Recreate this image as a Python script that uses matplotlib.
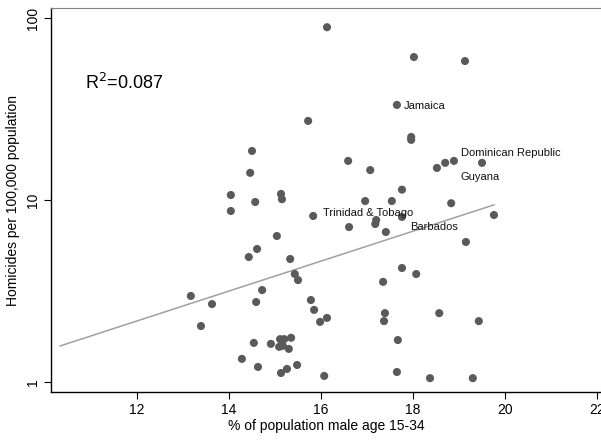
import numpy as np
import matplotlib
matplotlib.use("Agg")
import matplotlib.pyplot as plt
from matplotlib.ticker import FixedLocator, NullLocator

plt.rcParams['font.family'] = ['Liberation Sans', 'DejaVu Sans']

# share of population that is male aged 15-34 (%)
male_share = [
    16.13, 18.02, 19.13, 17.65, 15.72, 17.96, 17.96, 16.59, 17.07, 18.52,
    18.70, 18.89, 19.50, 17.76, 16.96, 17.54, 18.83, 19.76, 15.83, 14.50,
    14.46, 14.04, 15.13, 15.15, 14.57, 14.04, 16.61, 17.20, 17.18, 17.41,
    15.04, 14.61, 14.43, 15.33, 17.76, 19.15, 17.76, 18.07, 17.35, 15.50,
    15.43, 15.78, 15.85, 15.98, 16.13, 17.39, 17.37, 18.57, 19.43, 17.67,
    16.07, 17.65, 18.37, 19.30, 14.72, 13.17, 13.63, 14.59, 13.39, 15.35,
    14.54, 14.91, 15.11, 15.20, 15.09, 15.17, 15.30, 14.28, 14.63, 15.13,
    15.26, 15.48,
]
# homicides per 100,000 population
homicide_rate = [
    89.0, 61.0, 58.0, 33.3, 27.2, 22.2, 21.4, 16.4, 14.6, 15.0,
    16.0, 16.4, 16.0, 11.4, 9.87, 9.87, 9.6, 8.27, 8.17, 18.6,
    14.1, 10.65, 10.8, 10.1, 9.75, 8.7, 7.1, 7.76, 7.38, 6.67,
    6.34, 5.38, 4.86, 4.74, 8.07, 5.88, 4.23, 3.92, 3.55, 3.63,
    3.92, 2.82, 2.49, 2.14, 2.25, 2.39, 2.16, 2.39, 2.16, 1.70,
    1.08, 1.135, 1.05, 1.05, 3.2, 2.97, 2.68, 2.75, 2.03, 1.75,
    1.64, 1.62, 1.72, 1.72, 1.56, 1.58, 1.52, 1.34, 1.21, 1.12,
    1.18, 1.24,
]

# labelled countries: (x, y) of the point
countries = {
    "Jamaica": (17.65, 33.3),
    "Dominican Republic": (18.89, 16.4),
    "Guyana": (18.89, 16.4),
    "Trinidad & Tobago": (15.83, 8.17),
    "Barbados": (17.41, 6.67),
}
# label offsets in pixels
label_offsets = {
    "Jamaica": (7, -1),
    "Dominican Republic": (7, 8),
    "Guyana": (7, -16),
    "Trinidad & Tobago": (10, 3),
    "Barbados": (24, 5),
}

# log10(rate) = FIT_A + FIT_B * share
FIT_A = -0.651
FIT_B = 0.0822
FIT_X = [10.33, 19.76]
R2 = 0.087

x_ticks = [12, 14, 16, 18, 20, 22]
y_ticks = [1, 10, 100]

fig = plt.figure(figsize=(6.01, 4.40), dpi=100)
ax = fig.add_axes([51 / 601, 48 / 440, 550 / 601, 384 / 440])

fit_x = np.array(FIT_X)
ax.plot(fit_x, 10 ** (FIT_A + FIT_B * fit_x), color="#a0a0a0", lw=1.1,
        zorder=1)
ax.scatter(male_share, homicide_rate, s=34, color="#5a5a5a",
           edgecolors="none", zorder=2)

for name, (px, py) in countries.items():
    dx, dy = label_offsets[name]
    ax.annotate(name, (px, py), xytext=(dx, dy), textcoords="offset pixels",
                fontsize=8, va="center", ha="left", color="#111111",
                zorder=3)

fig.text(85 / 601, 1 - 83 / 440, r"R$^2$=%.3f" % R2,
         fontsize=13, va="center", ha="left")

ax.set_yscale("log")
ax.set_xlim(10.13, 22.087)
ax.set_ylim(10 ** (-10 / 182), 10 ** (2 + 10 / 182))
ax.xaxis.set_major_locator(FixedLocator(x_ticks))
ax.yaxis.set_major_locator(FixedLocator(y_ticks))
ax.yaxis.set_minor_locator(NullLocator())
ax.set_xticklabels([str(t) for t in x_ticks], fontsize=10)
ax.set_yticklabels([str(t) for t in y_ticks], fontsize=10, rotation=90,
                   va="center")
ax.tick_params(direction="out", length=5, width=0.8, pad=3)

ax.set_xlabel("% of population male age 15-34", fontsize=10, labelpad=1)
ax.set_ylabel("Homicides per 100,000 population", fontsize=10, labelpad=4)

ax.spines["right"].set_visible(False)
ax.spines["top"].set_color("#808080")
ax.spines["left"].set_linewidth(1.0)
ax.spines["bottom"].set_linewidth(1.0)

fig.savefig("out.png", dpi=100)
